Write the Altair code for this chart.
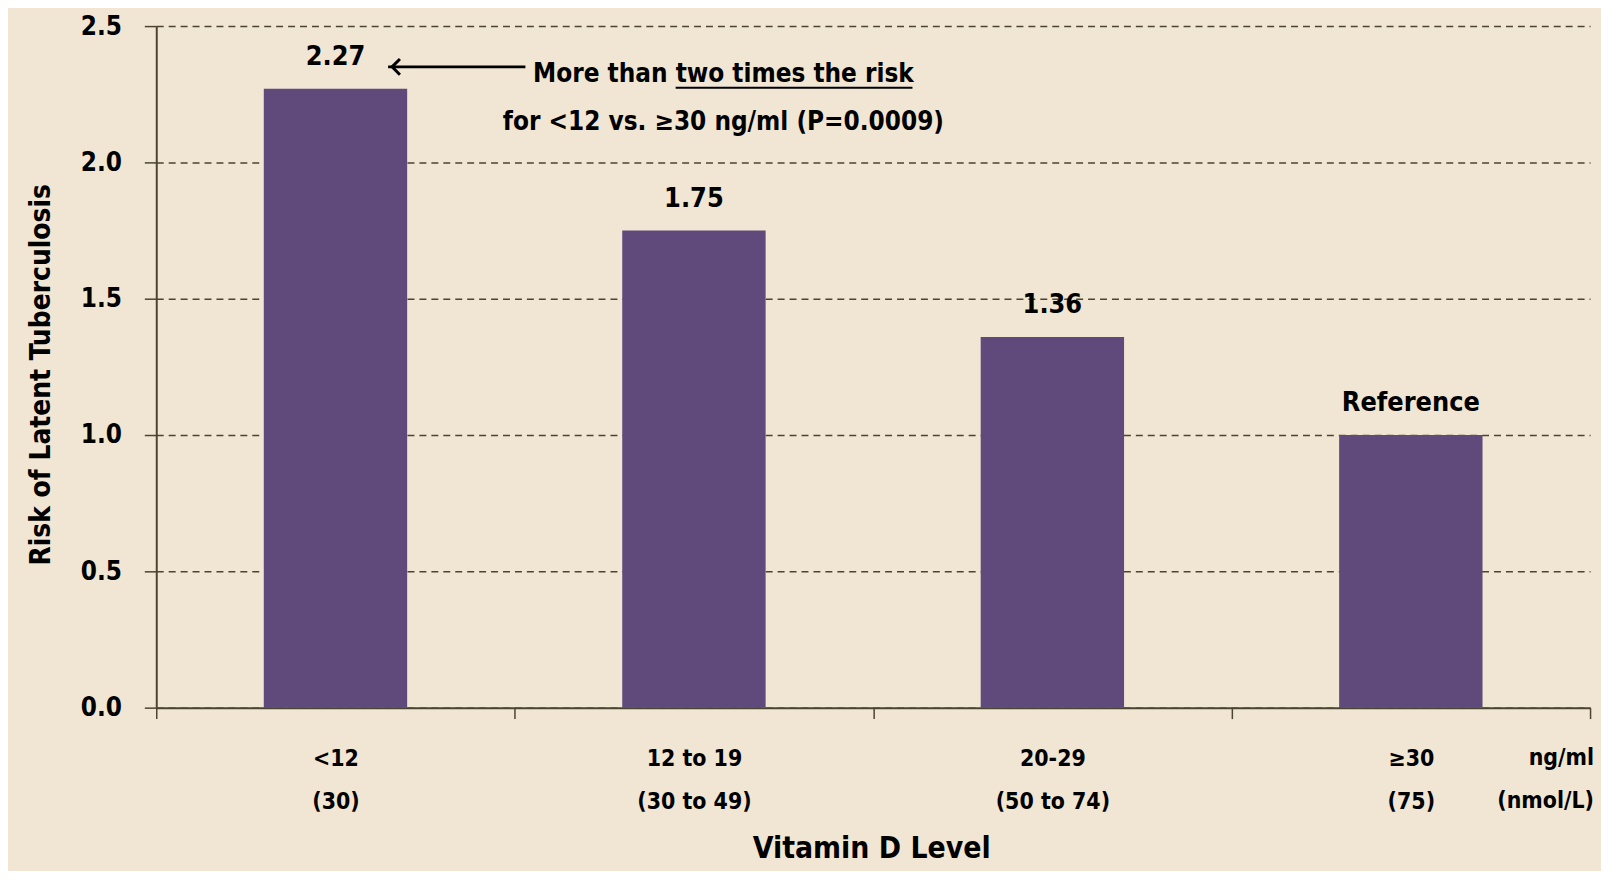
import altair as alt
import pandas as pd

# ---- data ----
categories = ["<12|(30)", "12 to 19|(30 to 49)", "20-29|(50 to 74)", "≥30|(75)"]
risk = [2.27, 1.75, 1.36, 1.00]
bar_labels = ["2.27", "1.75", "1.36", "Reference"]
y_ticks = [0.0, 0.5, 1.0, 1.5, 2.0, 2.5]

FONT = "DejaVu Sans Condensed, Liberation Sans Narrow, sans-serif"
BG = "#F1E6D3"
BAR = "#5F4A7B"
AXIS = "#4B4430"

W, H = 1441, 685

df = pd.DataFrame({"cat": categories, "risk": risk, "label": bar_labels})

x = alt.X(
    "cat:N",
    sort=None,
    scale=alt.Scale(paddingInner=0, paddingOuter=0),
    axis=alt.Axis(
        title="Vitamin D Level",
        labelAngle=0,
        labelExpr="split(datum.label, '|')",
        labelFontSize=23,
        labelFont=FONT,
        labelFontWeight="bold",
        labelColor="#000000",
        labelLineHeight=43,
        labelBaseline="middle",
        labelPadding=40,
        labelOverlap=False,
        labelBound=False,
        labelFlush=False,
        tickBand="extent",
        tickSize=11,
        tickColor=AXIS,
        tickWidth=1.5,
        domainColor=AXIS,
        domainWidth=2,
        grid=False,
        titleFont=FONT,
        titleFontSize=30,
        titleFontWeight="bold",
        titleColor="#000000",
        titleBaseline="alphabetic",
        titleY=151,
        titleX=W / 2 - 2,
        titleAnchor="middle",
    ),
)

y = alt.Y(
    "risk:Q",
    scale=alt.Scale(domain=[0, 2.5], nice=False),
    axis=alt.Axis(
        title="Risk of Latent Tuberculosis",
        values=y_ticks,
        format=".1f",
        labelFont=FONT,
        labelFontSize=26,
        labelFontWeight="bold",
        labelColor="#000000",
        labelPadding=23,
        tickSize=12,
        tickColor=AXIS,
        tickWidth=1.5,
        domainColor=AXIS,
        domainWidth=2,
        grid=True,
        gridColor=AXIS,
        gridDash=[7, 5],
        gridWidth=1.5,
        titleFont=FONT,
        titleFontSize=28,
        titleFontWeight="bold",
        titleColor="#000000",
        titleAngle=270,
        titleBaseline="alphabetic",
        titleX=-107,
        titleY=350,
        titleAlign="center",
    ),
)

bars = alt.Chart(df).mark_bar(
    color=BAR, width=alt.RelativeBandSize(0.4)
).encode(x=x, y=y)

values_text = alt.Chart(df).mark_text(
    font=FONT, fontSize=27, fontWeight="bold", color="#000000",
    baseline="alphabetic", dy=-24,
).encode(x=alt.X("cat:N", sort=None), y="risk:Q", text="label:N")

one = pd.DataFrame({"k": [0]})

arrow_line = alt.Chart(one).mark_rule(color="#000000", strokeWidth=3).encode(
    x=alt.value(233), x2=alt.value(371), y=alt.value(41)
)
arrow_head = alt.Chart(one).mark_point(
    shape="M 1 -1 L 0 0 L 1 1", filled=False, stroke="#000000",
    strokeWidth=3, size=250, opacity=1,
).encode(x=alt.value(237), y=alt.value(41))

note1 = alt.Chart(one).mark_text(
    font=FONT, fontSize=26, fontWeight="bold", color="#000000",
    align="center", baseline="alphabetic",
).encode(x=alt.value(570), y=alt.value(56), text=alt.value("More than two times the risk"))

note2 = alt.Chart(one).mark_text(
    font=FONT, fontSize=26, fontWeight="bold", color="#000000",
    align="center", baseline="alphabetic",
).encode(x=alt.value(570), y=alt.value(104), text=alt.value("for <12 vs. ≥30 ng/ml (P=0.0009)"))

underline = alt.Chart(one).mark_rule(color="#000000", strokeWidth=2).encode(
    x=alt.value(522), x2=alt.value(760), y=alt.value(62)
)

unit1 = alt.Chart(one).mark_text(
    font=FONT, fontSize=23, fontWeight="bold", color="#000000",
    align="right", baseline="middle",
).encode(x=alt.value(W + 4), y=alt.value(H + 51), text=alt.value("ng/ml"))
unit2 = alt.Chart(one).mark_text(
    font=FONT, fontSize=23, fontWeight="bold", color="#000000",
    align="right", baseline="middle",
).encode(x=alt.value(W + 4), y=alt.value(H + 94), text=alt.value("(nmol/L)"))

chart = alt.layer(
    bars, values_text, arrow_line, arrow_head, note1, note2, underline, unit1, unit2
).properties(
    width=W, height=H,
    background=BG,
    padding={"left": 149, "top": 16, "right": 11, "bottom": 162},
    autosize=alt.AutoSizeParams(type="none"),
).configure_view(stroke=None)

chart.save("out.html", embed_options={"renderer": "svg", "actions": False})
